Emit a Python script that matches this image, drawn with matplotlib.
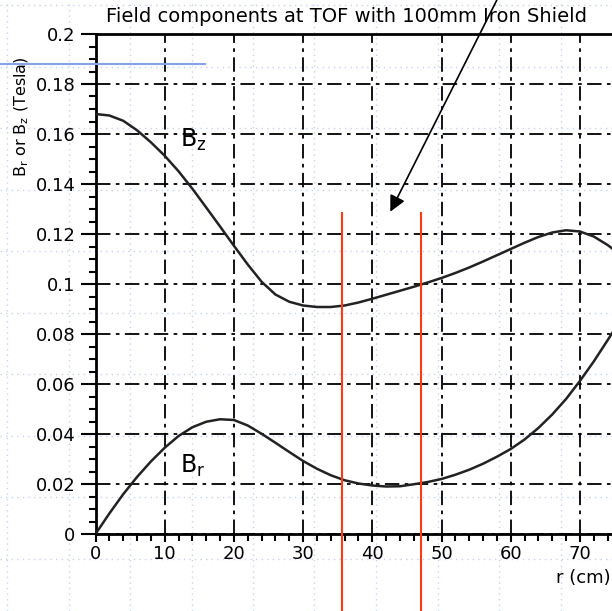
"""
field components at the TOF with the 100mm iron shield

Bz and Br against radius, with the two red marks for the TOF edges
saves out.png
"""

import matplotlib.pyplot as plt
import numpy as np
from matplotlib.lines import Line2D

# radius in cm, every 2 cm
r_cm = [0, 2, 4, 6, 8, 10, 12, 14, 16, 18, 20, 22, 24, 26, 28, 30, 32, 34, 36,
        38, 40, 42, 44, 46, 48, 50, 52, 54, 56, 58, 60, 62, 64, 66, 68, 70, 72,
        74, 75]

# field in tesla
bz = [0.168, 0.1674, 0.1653, 0.1615, 0.1567, 0.1513, 0.1451, 0.1381, 0.1306,
      0.123, 0.1153, 0.1078, 0.1009, 0.0958, 0.0929, 0.0914, 0.0908, 0.0908,
      0.0914, 0.0926, 0.0941, 0.0957, 0.0973, 0.0989, 0.1006, 0.1024, 0.1044,
      0.1066, 0.109, 0.1115, 0.114, 0.1165, 0.1188, 0.1206, 0.1215, 0.121,
      0.119, 0.1156, 0.1135]
br = [0.0, 0.0082, 0.0159, 0.0228, 0.029, 0.0345, 0.0392, 0.0427, 0.0449,
      0.0459, 0.0456, 0.0434, 0.0401, 0.0365, 0.0328, 0.0292, 0.0261, 0.0235,
      0.0215, 0.0202, 0.0194, 0.019, 0.0191, 0.0199, 0.0208, 0.022, 0.0237,
      0.0257, 0.0281, 0.0309, 0.034, 0.0378, 0.0424, 0.0478, 0.054, 0.0612,
      0.069, 0.0775, 0.0818]

# where the TOF sits (red marks) and where the arrow points
tof_edges = [35.6, 47.1]
tof_top = 0.1289
arrow_tip = (42.6, 0.1289)
arrow_tail = (58.0, 0.2136)

x_ticks = [0, 10, 20, 30, 40, 50, 60, 70]
y_ticks = [0, 0.02, 0.04, 0.06, 0.08, 0.1, 0.12, 0.14, 0.16, 0.18, 0.2]
y_tick_labels = ["0", "0.02", "0.04", "0.06", "0.08", "0.1", "0.12", "0.14",
                 "0.16", "0.18", "0.2"]

fig = plt.figure(figsize=(6.12, 6.11), dpi=100)

# faint blue dotted page grid behind everything
grid_col = "#c5d2f2"
for px in np.arange(7, 612, 61.5):
    fig.add_artist(Line2D([px / 612, px / 612], [0, 1], color=grid_col, lw=1,
                          ls=(0, (1, 3)), zorder=0))
for py in np.arange(5, 611, 61.5):
    fig.add_artist(Line2D([0, 1], [1 - py / 611, 1 - py / 611], color=grid_col,
                          lw=1, ls=(0, (1, 3)), zorder=0))

# stray blue line at the top left
fig.add_artist(Line2D([0, 205 / 612], [1 - 64 / 611, 1 - 64 / 611],
                      color="#86a2ea", lw=1.5, zorder=1))

ax = fig.add_axes([95.5 / 612, 77 / 611, 519 / 612, 500 / 611])
ax.set_facecolor("none")

ax.plot(r_cm, bz, color="#222222", lw=1.8, zorder=3)
ax.plot(r_cm, br, color="#222222", lw=1.8, zorder=3)

ax.text(12.2, 0.155, r"B$_\mathrm{z}$", fontsize=17, ha="left", va="baseline")
ax.text(12.2, 0.0243, r"B$_\mathrm{r}$", fontsize=17, ha="left", va="baseline")

# red marks run off the bottom of the picture
ax.vlines(tof_edges, -0.04, tof_top, color="#ff3a10", lw=1.5, clip_on=False,
          zorder=4)

ax.annotate("", xy=arrow_tip, xytext=arrow_tail, annotation_clip=False,
            arrowprops=dict(arrowstyle="-|>", color="black", lw=1.2,
                            mutation_scale=24, shrinkA=0, shrinkB=0))

ax.set_xlim(0, 75)
ax.set_ylim(0, 0.2)
ax.set_xticks(x_ticks)
ax.set_yticks(y_ticks)
ax.set_yticklabels(y_tick_labels)
ax.set_xticks(np.arange(0, 76, 2), minor=True)
ax.set_yticks(np.arange(0, 0.2001, 0.005), minor=True)

ax.grid(True, which="major", color="black", lw=1.3, ls=(0, (8, 3, 2, 3)))
ax.tick_params(which="major", direction="out", length=11, width=1.5,
               labelsize=13)
ax.tick_params(axis="x", which="major", length=6, pad=2)
ax.tick_params(which="minor", direction="out", length=5, width=1.5)

for side in ["left", "bottom", "top"]:
    ax.spines[side].set_linewidth(2)
ax.spines["right"].set_visible(False)

fig.text(347 / 612, 1 - 17 / 611, "Field components at TOF with 100mm Iron Shield",
         fontsize=14, ha="center", va="center")
ax.set_ylabel(r"B$_\mathrm{r}$ or B$_\mathrm{z}$ (Tesla)", fontsize=11.5)
ax.yaxis.set_label_coords(-0.125, 0.834)
fig.text(0.998, 1 - 578 / 611, "r (cm)", fontsize=13, ha="right", va="center")

fig.savefig("out.png", dpi=100)
